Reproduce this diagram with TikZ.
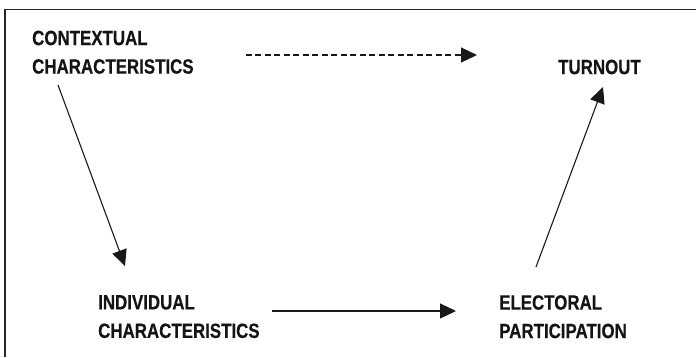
\documentclass[tikz,border=0pt]{standalone}
\usepackage{fontspec}
\setmainfont{Liberation Sans}[FakeStretch=0.82,BoldFeatures={FakeBold=0.4}]
\usetikzlibrary{arrows.meta,positioning,calc}

\begin{document}
\begin{tikzpicture}[x=1pt,y=-1pt,
    factor/.style={anchor=north west,inner sep=0pt,align=left,
        font=\fontsize{20.6}{28.5}\selectfont\bfseries,text=black!92},
    link/.style={line width=1.1pt,draw=black!90,
        -{Triangle[length=16pt,width=15pt]}}]
    \useasboundingbox (0,0) rectangle (696,357);
    % frame, only top and left edges show
    \draw[line width=1.5pt,black!85] (5,357) -- (5,9.5) -- (696,9.5);
    % the four factors
    \node[factor] (ctx) at (32,30.5) {CONTEXTUAL\\CHARACTERISTICS};
    \node[factor] (turn) at (558,59.5) {TURNOUT};
    \node[factor] (ind) at (98,295) {INDIVIDUAL\\CHARACTERISTICS};
    \node[factor] (elec) at (499,295) {ELECTORAL\\PARTICIPATION};
    % links
    \draw[link,dash pattern=on 6pt off 3.5pt] ($(ctx.north east)+(52,24.5)$) -- ($(turn.north west)+(-81,-4.5)$);
    \draw[link] ($(ctx.north west)+(26,54.5)$) -- ($(ind.north west)+(27,-29)$);
    \draw[link] ($(ind.north east)+(12,16)$) -- ($(elec.north west)+(-43,16)$);
    \draw[link] ($(elec.north west)+(37,-28)$) -- ($(turn.north west)+(45,27.5)$);
\end{tikzpicture}
\end{document}
